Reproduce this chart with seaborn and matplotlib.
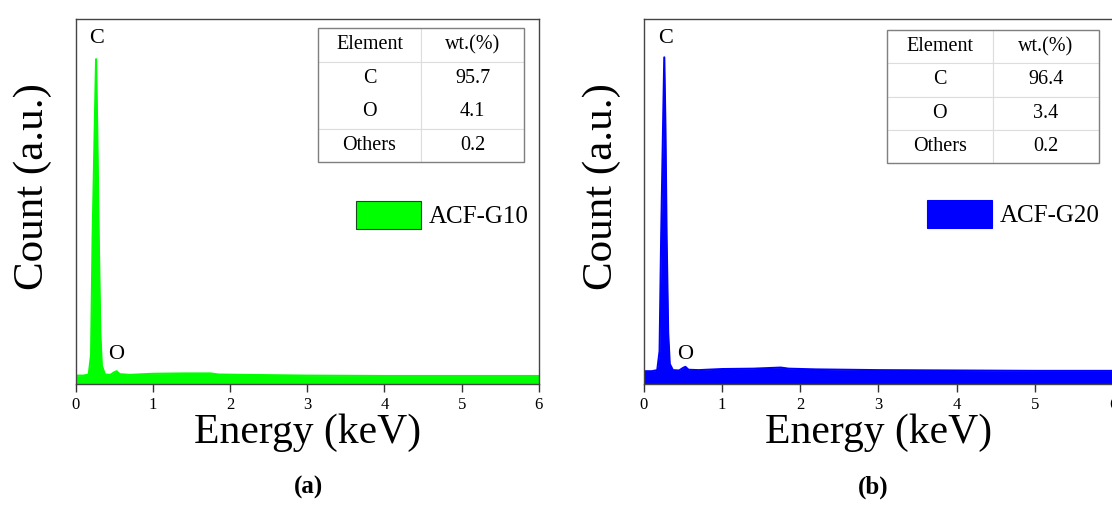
import pandas as pd
import matplotlib.pyplot as plt
import seaborn as sns
from matplotlib.patches import Patch, Rectangle

# EDS spectra (counts in arbitrary units, 0-100)
energy_g10 = [0.0, 0.10, 0.17, 0.20, 0.22, 0.24, 0.265, 0.28, 0.30, 0.32, 0.34, 0.38,
              0.45, 0.50, 0.53, 0.57, 0.70, 1.00, 1.40, 1.75, 1.85, 2.20, 3.00, 4.00, 5.00, 6.00]
count_g10 = [2.3, 2.3, 2.6, 8.0, 40.0, 62.0, 89.0, 70.0, 40.0, 14.0, 5.0, 2.6,
             2.5, 3.2, 3.5, 2.7, 2.5, 2.8, 2.9, 2.9, 2.6, 2.5, 2.3, 2.2, 2.2, 2.2]

energy_g20 = [0.0, 0.10, 0.17, 0.20, 0.22, 0.24, 0.26, 0.275, 0.29, 0.31, 0.33, 0.37,
              0.45, 0.50, 0.53, 0.57, 0.70, 1.00, 1.40, 1.75, 1.85, 2.20, 3.00, 4.00, 5.00, 6.00]
count_g20 = [3.5, 3.5, 3.8, 9.0, 40.0, 65.0, 89.5, 70.0, 40.0, 14.0, 5.5, 3.8,
             3.7, 4.4, 4.7, 3.9, 3.8, 4.1, 4.2, 4.5, 4.2, 4.0, 3.8, 3.7, 3.6, 3.6]

elements = ["C", "O", "Others"]
wt_g10 = ["95.7", "4.1", "0.2"]
wt_g20 = ["96.4", "3.4", "0.2"]
table_header = ["Element", "wt.(%)"]

sns.set_style("white")
plt.rcParams["font.family"] = ["Liberation Serif", "DejaVu Serif"]
plt.rcParams["text.color"] = "black"
plt.rcParams["axes.labelcolor"] = "black"
plt.rcParams["xtick.color"] = "black"

fig = plt.figure(figsize=(11.12, 5.11), dpi=100)
ax1 = fig.add_axes([0.068, 0.2485, 0.4166, 0.7143])
ax2 = fig.add_axes([0.5791, 0.2485, 0.4218, 0.7143])

panels = [
    (ax1, energy_g10, count_g10, wt_g10, "#00ff00", "#1a4a1a", "ACF-G10", "(a)", 0.277,
     [0.523, 0.608, 0.445, 0.367], [0.605, 0.463], False),
    (ax2, energy_g20, count_g20, wt_g20, "#0000ff", "#0000ff", "ACF-G20", "(b)", 0.785,
     [0.518, 0.605, 0.452, 0.365], [0.603, 0.466], True),
]

for ax, e, c, wt, color, edge, name, tag, tag_x, tbox, legpos, co_line in panels:
    df = pd.DataFrame({"Energy": e, "Count": c})
    ax.fill_between(df["Energy"], 0, df["Count"], color=color, lw=0)
    sns.lineplot(data=df, x="Energy", y="Count", ax=ax, color=color, lw=1.5)

    ax.set_xlim(0, 6)
    ax.set_ylim(0, 100)
    ax.set_xticks(range(7))
    ax.set_yticks([])
    ax.tick_params(axis="x", direction="out", length=6, width=1, color="#333333",
                   labelsize=12, pad=3, bottom=True)
    for sp in ax.spines.values():
        sp.set_color("#444444")
        sp.set_linewidth(1.0)
    ax.set_xlabel("Energy (keV)", fontsize=30, labelpad=1)
    ax.set_ylabel("Count (a.u.)", fontsize=31)
    ax.yaxis.set_label_coords(-0.05, 0.54)

    # peak labels
    ax.text(0.27, 92, "C", fontsize=16, ha="center", va="bottom")
    ax.text(0.53, 5.5, "O", fontsize=16, ha="center", va="bottom")

    # composition table
    tb = ax.table(cellText=[[el, w] for el, w in zip(elements, wt)],
                  colLabels=table_header, cellLoc="center", bbox=tbox)
    tb.auto_set_font_size(False)
    tb.set_fontsize(14.5)
    for (r, col), cell in tb.get_celld().items():
        cell.set_edgecolor("#dddddd")
        cell.set_linewidth(0.8)
        if not co_line:
            if r == 1:
                cell.visible_edges = "TLR"
            elif r == 2:
                cell.visible_edges = "BLR"
    ax.add_patch(Rectangle((tbox[0], tbox[1]), tbox[2], tbox[3], transform=ax.transAxes,
                           fill=False, edgecolor="#808080", lw=1.0, zorder=10))

    handle = Patch(facecolor=color, edgecolor=edge, lw=0.8, label=name)
    ax.legend(handles=[handle], loc="center left", bbox_to_anchor=legpos, frameon=False,
              fontsize=18, handlelength=2.6, handleheight=1.3, handletextpad=0.3,
              borderpad=0, borderaxespad=0)

    fig.text(tag_x, 0.034, tag, fontsize=18, fontweight="bold", ha="center", va="baseline")

fig.savefig("out.png", dpi=100)
